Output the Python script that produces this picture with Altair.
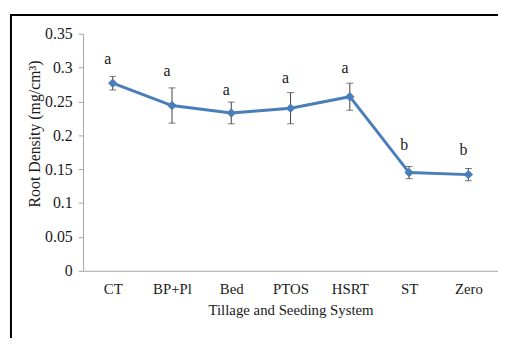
import altair as alt
import pandas as pd

cats = ["CT", "BP+Pl", "Bed", "PTOS", "HSRT", "ST", "Zero"]
means = [0.277, 0.244, 0.233, 0.240, 0.257, 0.145, 0.142]
errs = [0.010, 0.026, 0.016, 0.023, 0.020, 0.009, 0.009]
letters = ["a", "a", "a", "a", "a", "b", "b"]
letter_y = [0.313, 0.295, 0.267, 0.284, 0.299, 0.185, 0.178]
y_ticks = [0, 0.05, 0.1, 0.15, 0.2, 0.25, 0.3, 0.35]

df = pd.DataFrame({
    "cat": cats,
    "mean": means,
    "lo": [m - e for m, e in zip(means, errs)],
    "hi": [m + e for m, e in zip(means, errs)],
    "letter": letters,
    "ly": letter_y,
})

FONT = "Liberation Serif"
BLUE = "#4a7ebb"
TXT = "#1a1a1a"


def X():
    return alt.X("cat:N", sort=cats, scale=alt.Scale(type="point", padding=0.5),
                 axis=alt.Axis(title="Tillage  and Seeding System", labelAngle=0, ticks=False,
                               labelPadding=11, titlePadding=6, domainColor="#a6a6a6",
                               labelFont=FONT, titleFont=FONT, labelFontSize=15, titleFontSize=15,
                               labelColor=TXT, titleColor=TXT, titleFontWeight="normal"))


def Y(field):
    return alt.Y(field, type="quantitative", scale=alt.Scale(domain=[0, 0.35], nice=False),
                 axis=alt.Axis(title="Root Density (mg/cm³)", values=y_ticks, grid=False, tickSize=5,
                               tickColor="#a6a6a6", domainColor="#a6a6a6", labelPadding=6,
                               labelOverlap=False, labelFlush=False,
                               labelFont=FONT, titleFont=FONT, labelFontSize=16, titleFontSize=16,
                               labelColor=TXT, titleColor=TXT, titleFontWeight="normal",
                               titleX=-41, titleY=101, format=".2~f"))


base = alt.Chart(df)

rules = base.mark_rule(color="#404040", strokeWidth=1).encode(x=X(), y=Y("lo"), y2="hi:Q")
caps_lo = base.mark_tick(color="#404040", size=7, thickness=1).encode(x=X(), y=Y("lo"))
caps_hi = base.mark_tick(color="#404040", size=7, thickness=1).encode(x=X(), y=Y("hi"))
line = base.mark_line(color=BLUE, strokeWidth=3).encode(x=X(), y=Y("mean"))
pts = base.mark_point(shape="diamond", filled=True, color=BLUE, size=90, opacity=1).encode(
    x=X(), y=Y("mean"))
labels = base.mark_text(font=FONT, fontSize=16, color=TXT, baseline="middle", dx=-5).encode(
    x=X(), y=Y("ly"), text="letter:N")

frame = alt.Chart(alt.Data(values=[{"k": 1}])).mark_rect(
    fillOpacity=0, stroke="#000000", strokeWidth=2, clip=False).encode(
    x=alt.value(-73), x2=alt.value(440), y=alt.value(-19), y2=alt.value(340))

chart = alt.layer(rules, caps_lo, caps_hi, line, pts, labels, frame).properties(
    width=420, height=240,
    autosize=alt.AutoSizeParams(type="none"),
    padding={"left": 76, "top": 24, "right": 0, "bottom": 66},
).configure_view(stroke=None)

chart.save("out.html", embed_options={"renderer": "svg", "actions": False})
